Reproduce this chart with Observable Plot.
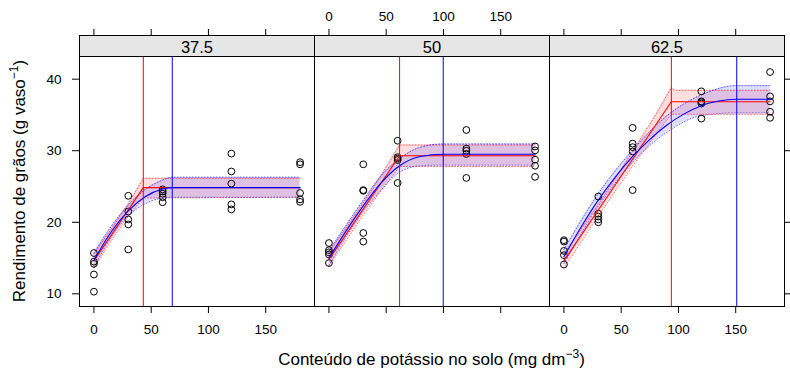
<!DOCTYPE html>
<html><head><meta charset="utf-8">
<script src="https://cdn.jsdelivr.net/npm/d3@7"></script>
<script src="https://cdn.jsdelivr.net/npm/@observablehq/plot@0.6"></script>
<style>
body{margin:0;background:#fff;}
svg{font-family:"Liberation Sans",Arial,sans-serif;}
</style>
</head><body><div id="chart"></div>
<script>
// ---- data ----
const panels = ["37.5", "50", "62.5"];
const doses = [0, 30, 60, 120, 180];
const xTicks = [0, 50, 100, 150];
const yTicks = [10, 20, 30, 40];

// observed grain yield, 5 replicates per dose (dose order)
const obs375 = [15.7,14.5,14.2,12.7,10.3, 23.7,21.5,20.4,19.7,16.2, 24.6,24.3,24.0,23.5,22.8, 29.6,27.1,25.4,22.5,21.8, 28.4,28.1,24.1,23.2,22.85];
const obs50  = [17.1,16.1,15.8,15.5,14.3, 28.1,24.5,24.4,18.5,17.3, 31.4,29.1,28.9,28.7,25.5, 32.9,30.3,30.0,29.55,26.2, 30.6,30.05,28.75,27.9,26.35];
const obs625 = [17.5,17.3,16.0,15.4,14.1, 23.6,21.2,20.8,20.4,20.0, 33.2,31.0,30.5,29.9,24.5, 38.3,36.9,36.8,36.6,34.5, 41.0,37.6,36.9,35.45,34.6];

// linear-plateau fit (red)
const lpX375 = [0, 43.1, 180], lpY375 = [14.6, 24.85, 24.85];
const lpX50  = [0, 61.7, 180], lpY50  = [14.8, 29.3, 29.3];
const lpX625 = [0, 93.8, 180], lpY625 = [14.6, 36.85, 36.85];
// its confidence band
const lpBX375 = [0, 15, 30, 43.1, 180], lpLo375 = [13.6, 17.4, 20.9, 23.4, 23.5], lpHi375 = [15.6, 19.0, 22.6, 26.15, 26.15];
const lpBX50  = [0, 30, 45, 61.7, 180], lpLo50  = [13.9, 21.0, 24.3, 27.8, 27.8], lpHi50  = [15.8, 22.7, 26.4, 30.8, 30.8];
const lpBX625 = [0, 30, 60, 80, 93.8, 97, 180], lpLo625 = [13.6, 20.9, 27.9, 32.2, 35.1, 35.1, 35.1], lpHi625 = [15.6, 22.5, 29.9, 35.0, 38.85, 38.45, 38.45];

// quadratic-plateau fit (blue)
const qpX375 = [0, 15, 30, 45, 60, 68.4, 180], qpY375 = [14.7, 18.65, 21.6, 23.6, 24.65, 24.85, 24.85];
const qpX50  = [0, 15, 30, 45, 61.7, 80, 99.8, 180], qpY50 = [15.0, 18.8, 22.3, 25.4, 27.9, 29.2, 29.5, 29.5];
const qpX625 = [0, 15, 30, 45, 60, 75, 90, 105, 120, 135, 150.9, 180], qpY625 = [15.2, 19.35, 23.1, 26.35, 29.2, 31.6, 33.6, 35.15, 36.3, 36.95, 37.2, 37.2];
// its confidence band
const qpBX375 = [0, 15, 30, 45, 60, 68.4, 180], qpLo375 = [13.7, 17.9, 20.9, 22.6, 23.4, 23.5, 23.5], qpHi375 = [15.7, 19.4, 22.4, 24.6, 25.9, 26.3, 26.3];
const qpBX50  = [0, 15, 30, 45, 61.7, 80, 99.8, 180], qpLo50 = [14.0, 18.0, 21.5, 24.4, 27.0, 27.9, 28.0, 28.0], qpHi50 = [16.0, 19.6, 23.1, 26.4, 28.9, 30.5, 30.95, 30.95];
const qpBX625 = [0, 30, 60, 90, 120, 150.9, 180], qpLo625 = [14.2, 22.2, 28.4, 32.6, 34.9, 35.3, 35.3], qpHi625 = [16.2, 24.0, 30.1, 34.9, 37.8, 39.1, 39.1];

// critical levels (vertical lines)
const lpCrit = [43.1, 61.7, 93.8];
const qpCrit = [68.4, 99.8, 150.9];

// ---- tables ----
const obsRows = [obs375, obs50, obs625].flatMap((arr, p) =>
  arr.map((y, i) => ({panel: panels[p], dose: doses[Math.floor(i / 5)], y})));
const lineRows = (xs, ys) => xs.flatMap((arr, p) => arr.map((x, i) => ({panel: panels[p], x, y: ys[p][i]})));
const bandRows = (xs, lo, hi) => xs.flatMap((arr, p) => arr.map((x, i) => ({panel: panels[p], x, lo: lo[p][i], hi: hi[p][i]})));
const lpLine = lineRows([lpX375, lpX50, lpX625], [lpY375, lpY50, lpY625]);
const qpLine = lineRows([qpX375, qpX50, qpX625], [qpY375, qpY50, qpY625]);
const lpBand = bandRows([lpBX375, lpBX50, lpBX625], [lpLo375, lpLo50, lpLo625], [lpHi375, lpHi50, lpHi625]);
const qpBand = bandRows([qpBX375, qpBX50, qpBX625], [qpLo375, qpLo50, qpLo625], [qpHi375, qpHi50, qpHi625]);
const critRows = panels.map((panel, i) => ({panel, lp: lpCrit[i], qp: qpCrit[i]}));
const bottomLabels = ["37.5", "62.5"].flatMap(panel => xTicks.map(x => ({panel, x})));
const topLabels = xTicks.map(x => ({panel: "50", x}));

const dots = "1,2";
const plot = Plot.plot({
  width: 790, height: 370,
  marginLeft: 78, marginRight: 5, marginTop: 56, marginBottom: 64,
  style: {fontFamily: "Liberation Sans, Arial, sans-serif", fontSize: "13.5px", background: "white", color: "#000"},
  fx: {domain: panels, padding: 0, axis: null},
  x: {domain: [-12.6, 192.6], axis: null},
  y: {domain: [8.23, 43.17], axis: null},
  marks: [
    // strips
    Plot.frame({insetTop: -21, insetBottom: 250, fill: "#e6e6e6", stroke: "#000"}),
    Plot.text(panels, {fx: d => d, text: d => d, frameAnchor: "top", lineAnchor: "bottom", dy: -4, fontSize: 16.5, fill: "#000"}),
    // bands
    Plot.areaY(lpBand, {fx: "panel", x: "x", y1: "lo", y2: "hi", fill: "#ff0000", fillOpacity: 0.13}),
    Plot.areaY(qpBand, {fx: "panel", x: "x", y1: "lo", y2: "hi", fill: "#0000ff", fillOpacity: 0.13, curve: "monotone-x"}),
    Plot.line(lpBand, {fx: "panel", x: "x", y: "lo", stroke: "#ff0000", strokeWidth: 1, strokeDasharray: dots, strokeOpacity: 0.6}),
    Plot.line(lpBand, {fx: "panel", x: "x", y: "hi", stroke: "#ff0000", strokeWidth: 1, strokeDasharray: dots, strokeOpacity: 0.6}),
    Plot.line(qpBand, {fx: "panel", x: "x", y: "lo", stroke: "#0000ff", strokeWidth: 1, strokeDasharray: dots, strokeOpacity: 0.6, curve: "monotone-x"}),
    Plot.line(qpBand, {fx: "panel", x: "x", y: "hi", stroke: "#0000ff", strokeWidth: 1, strokeDasharray: dots, strokeOpacity: 0.6, curve: "monotone-x"}),
    // observations
    Plot.dot(obsRows, {fx: "panel", x: "dose", y: "y", r: 3.4, stroke: "#000", strokeWidth: 1, fill: "none"}),
    // fits
    Plot.line(lpLine, {fx: "panel", x: "x", y: "y", stroke: "#ff0000", strokeWidth: 1.1}),
    Plot.line(qpLine, {fx: "panel", x: "x", y: "y", stroke: "#0000ff", strokeWidth: 1.1, curve: "monotone-x"}),
    Plot.ruleX(critRows, {fx: "panel", x: "lp", stroke: "#ff0000", strokeWidth: 1}),
    Plot.ruleX(critRows, {fx: "panel", x: "qp", stroke: "#0000ff", strokeWidth: 1}),
    // panel borders
    Plot.frame({stroke: "#000"}),
    // axes
    Plot.axisX({anchor: "bottom", ticks: xTicks, tickSize: 7, fill: "none", label: null, stroke: "#000"}),
    Plot.axisX({anchor: "top", ticks: xTicks, tickSize: 7, fill: "none", label: null, stroke: "#000", dy: -21}),
    Plot.text(bottomLabels, {fx: "panel", x: "x", text: d => String(d.x), frameAnchor: "bottom", lineAnchor: "top", dy: 18, fill: "#000"}),
    Plot.text(topLabels, {fx: "panel", x: "x", text: d => String(d.x), frameAnchor: "top", lineAnchor: "bottom", dy: -36, fill: "#000"}),
    Plot.axisY({anchor: "left", ticks: yTicks, tickSize: 7, tickPadding: 11, label: null, stroke: "#000", fill: "#000"}),
    Plot.axisY({anchor: "right", ticks: yTicks, tickSize: 7, fill: "none", label: null, stroke: "#000"})
  ]
});
document.getElementById("chart").appendChild(plot);

// axis titles with superscripts
const svg = d3.select(plot);
const yt = svg.append("text")
  .attr("transform", "translate(25,181) rotate(-90)")
  .attr("text-anchor", "middle").attr("font-size", "17px").attr("fill", "#000");
yt.append("tspan").text("Rendimento de grãos (g vaso");
yt.append("tspan").attr("font-size", "12px").attr("dy", "-7").text("−1");
yt.append("tspan").attr("dy", "7").text(")");
const xt = svg.append("text")
  .attr("x", 431.5).attr("y", 365)
  .attr("text-anchor", "middle").attr("font-size", "17px").attr("fill", "#000");
xt.append("tspan").text("Conteúdo de potássio no solo (mg dm");
xt.append("tspan").attr("font-size", "12px").attr("dy", "-7").text("−3");
xt.append("tspan").attr("dy", "7").text(")");
</script>
</body></html>
